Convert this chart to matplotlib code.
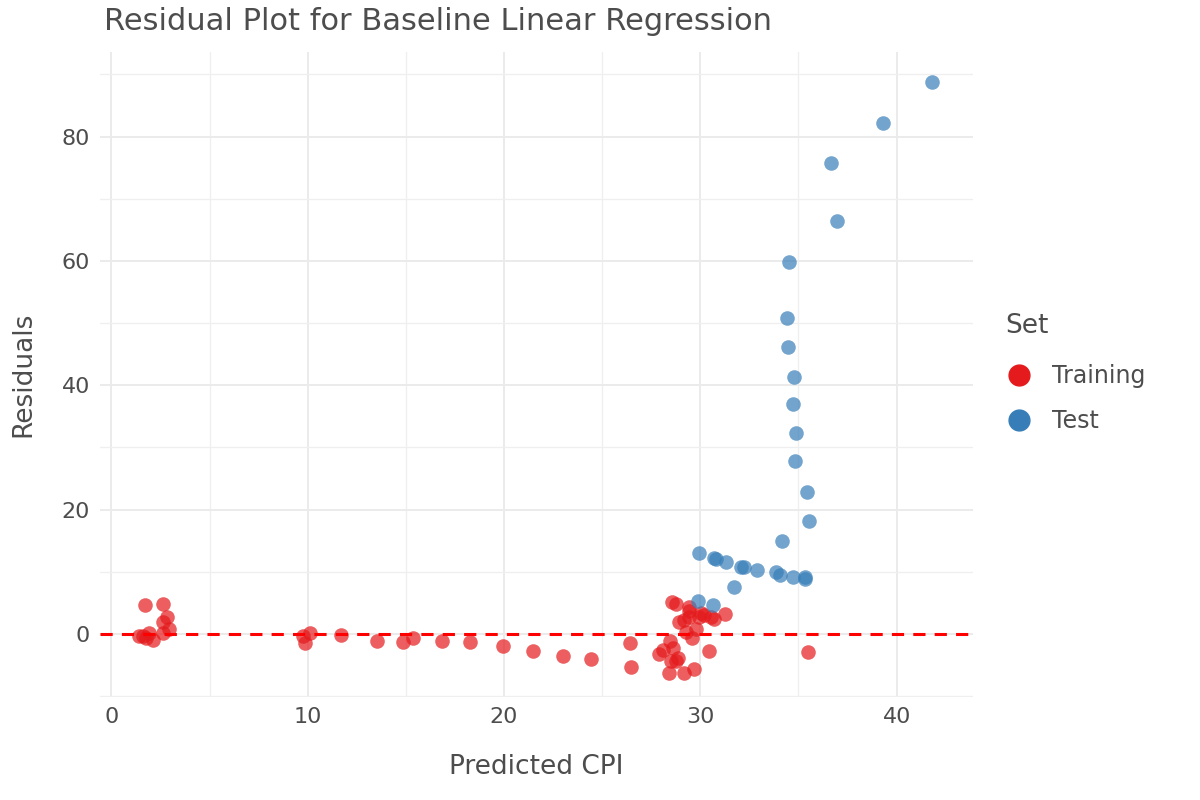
import numpy as np
import matplotlib.pyplot as plt
from matplotlib.lines import Line2D

# Training set: predicted CPI vs residuals
train_pred = [1.43, 1.6, 1.73, 1.77, 1.94, 2.1, 2.61, 2.61, 2.61, 2.84, 2.95,
              9.78, 9.85, 10.12, 11.68, 13.53, 14.87, 15.35, 16.86, 18.27,
              19.93, 21.5, 23.03, 24.45, 26.42, 26.45, 27.9,
              28.09, 28.39, 28.43, 28.51, 28.56, 28.6, 28.76, 28.76, 28.85,
              28.93, 29.19, 29.19, 29.28, 29.41, 29.44, 29.44, 29.58, 29.7,
              29.78, 29.95, 30.04, 30.2, 30.46, 30.55, 30.72, 31.28, 35.5]
train_resid = [-0.4, -0.4, 4.7, -0.7, 0.2, -1.0, 4.8, 1.9, 0.1, 2.7, 0.75,
               -0.4, -1.5, 0.2, -0.2, -1.1, -1.3, -0.6, -1.1, -1.3,
               -2.0, -2.7, -3.5, -4.1, -1.4, -5.3, -3.2,
               -2.6, -6.3, -1.2, -4.4, 5.1, -2.3, 4.8, -4.3, -3.9,
               2.0, 2.25, -6.2, 0.4, 4.4, 3.7, 2.8, -0.7, -5.7,
               0.75, 2.8, 3.3, 3.05, -2.7, 2.8, 2.4, 3.2, -2.9]

# Test set
test_pred = [29.87, 30.63, 31.74, 29.95, 30.72, 30.8, 31.31, 32.08, 32.25,
             32.89, 33.86, 34.08, 34.71, 35.35, 35.35, 34.17, 35.56,
             34.5, 34.42, 34.49, 34.76, 34.74, 34.88, 34.81, 35.42,
             36.68, 36.98, 39.33, 41.82]
test_resid = [5.3, 4.6, 7.5, 13.1, 12.3, 12.1, 11.6, 10.8, 10.8,
              10.3, 10.0, 9.5, 9.2, 9.2, 8.9, 15.0, 18.1,
              59.8, 50.8, 46.2, 41.4, 37.0, 32.4, 27.9, 22.8,
              75.7, 66.4, 82.2, 88.7]

red = '#E41A1C'
blue = '#377EB8'
txt = '#4D4D4D'

fig = plt.figure(figsize=(12, 8), dpi=100)
ax = fig.add_axes([0.083, 0.129, 0.728, 0.806])

ax.scatter(train_pred, train_resid, s=110, color=red, alpha=0.7, linewidths=0, zorder=3)
ax.scatter(test_pred, test_resid, s=110, color=blue, alpha=0.7, linewidths=0, zorder=3)
ax.axhline(0, color='#FF0000', linestyle=(0, (4, 3)), linewidth=2.2, zorder=4)

ax.set_xlim(-0.6, 43.9)
ax.set_ylim(-10.1, 93.6)
ax.set_xticks([0, 10, 20, 30, 40])
ax.set_xticks([5, 15, 25, 35], minor=True)
ax.set_yticks([0, 20, 40, 60, 80])
ax.set_yticks([-10, 10, 30, 50, 70, 90], minor=True)
ax.grid(which='major', color='#EBEBEB', linewidth=1.4)
ax.grid(which='minor', color='#EFEFEF', linewidth=0.9)
ax.set_axisbelow(True)
for s in ax.spines.values():
    s.set_visible(False)
ax.tick_params(which='both', length=0, labelsize=16, labelcolor=txt, pad=7)

ax.set_xlabel('Predicted CPI', fontsize=19, color=txt, labelpad=20)
ax.set_ylabel('Residuals', fontsize=19, color=txt, labelpad=18)
fig.text(0.087, 0.962, 'Residual Plot for Baseline Linear Regression',
         fontsize=22, color=txt, va='baseline')

handles = [Line2D([], [], marker='o', linestyle='', markersize=15, color=red, label='Training'),
           Line2D([], [], marker='o', linestyle='', markersize=15, color=blue, label='Test')]
leg = fig.legend(handles=handles, title='Set', loc='upper left',
                 bbox_to_anchor=(0.82, 0.635), frameon=False, fontsize=17,
                 title_fontsize=19, handletextpad=0.8, labelspacing=0.9,
                 handlelength=1.2)
leg._legend_box.align = 'left'
leg._legend_box.sep = 18
for t in leg.get_texts():
    t.set_color(txt)
leg.get_title().set_color(txt)

fig.savefig('out.png', dpi=100)
